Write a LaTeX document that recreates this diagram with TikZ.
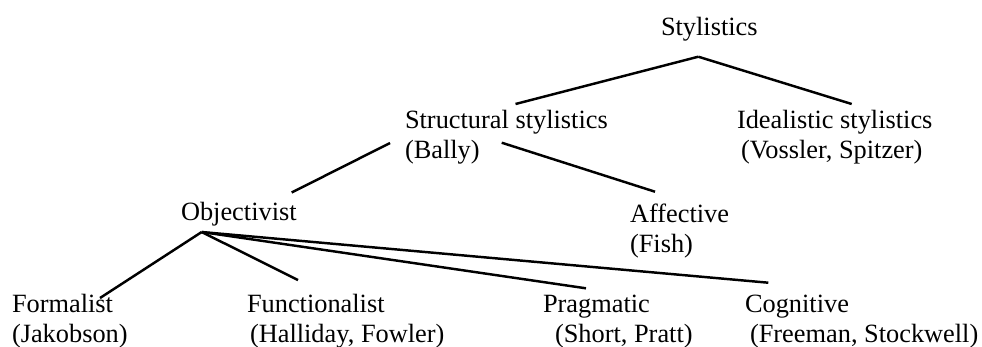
\documentclass[tikz,border=0pt]{standalone}
\usepackage{fontspec}
\setmainfont{Liberation Serif}
\usepackage{tikz}

\begin{document}
\begin{tikzpicture}[x=0.02cm, y=-0.02cm, line width=1.4pt,
        every node/.style={inner sep=0pt, outer sep=0pt, align=left, anchor=base west,
            font=\fontsize{15pt}{17.07pt}\selectfont}]
        \useasboundingbox (0,0) rectangle (982,346);

        % 节点
        \node (sty) at (661,35.5) {Stylistics};
        \node (str) at (405,158) {Structural stylistics\\(Bally)};
        \node (ide) at (737,158) {Idealistic stylistics\\\hspace*{0.08cm}(Vossler, Spitzer)};
        \node (obj) at (181,220) {Objectivist};
        \node (aff) at (630,252) {Affective\\(Fish)};
        \node (for) at (12,342) {Formalist\\(Jakobson)};
        \node (fun) at (247,342) {Functionalist\\\hspace*{0.06cm}(Halliday, Fowler)};
        \node (pra) at (543,342) {Pragmatic\\\hspace*{0.24cm}(Short, Pratt)};
        \node (cog) at (745,342) {Cognitive\\\hspace*{0.1cm}(Freeman, Stockwell)};

        \coordinate (styfork) at ([shift={(37.3,21.2)}]sty.base west);
        \coordinate (objfork) at ([shift={(20.7,12)}]obj.base west);

        % 连线
        \draw (styfork) -- ([shift={(110.5,-54)}]str.base west);
        \draw (styfork) -- ([shift={(114.7,-54)}]ide.base west);
        \draw ([shift={(-15,-15)}]str.base west) -- ([shift={(110.7,-27.5)}]obj.base west);
        \draw ([shift={(96.7,-15.3)}]str.base west) -- ([shift={(25,-60.3)}]aff.base west);
        \draw (objfork) -- ([shift={(88,-44)}]for.base west);
        \draw (objfork) -- ([shift={(51,-62)}]fun.base west);
        \draw (objfork) -- ([shift={(43,-53.7)}]pra.base west);
        \draw (objfork) -- ([shift={(23.3,-59.3)}]cog.base west);
    \end{tikzpicture}
\end{document}
